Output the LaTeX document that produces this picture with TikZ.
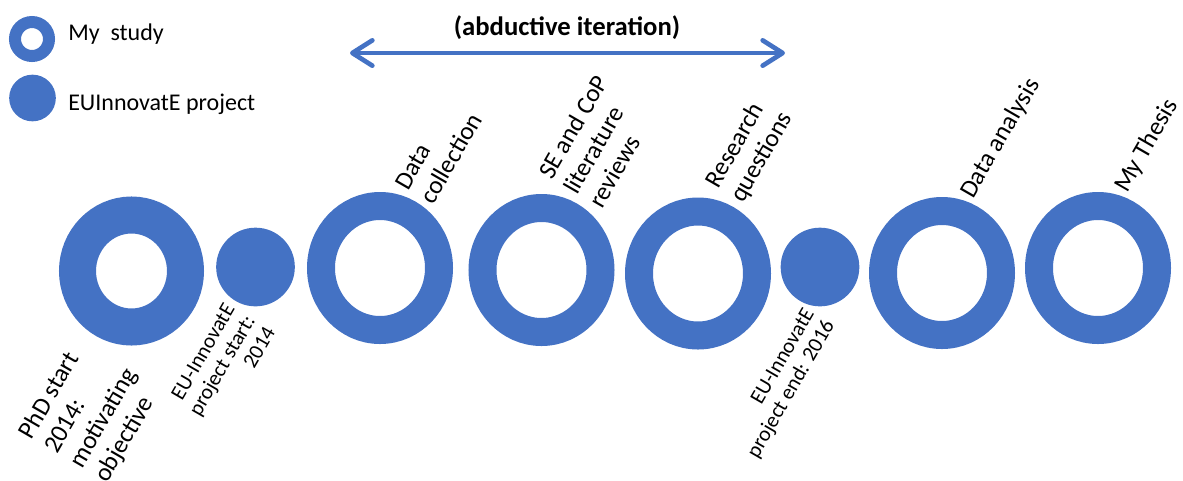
\documentclass[tikz,border=0pt]{standalone}
\usepackage{fontspec}
\setmainfont{Carlito}
\usetikzlibrary{shapes.geometric,arrows.meta}
\definecolor{ublue}{HTML}{4472C4}
\begin{document}
\begin{tikzpicture}[x=0.75pt,y=-0.75pt,
  ring/.style={ellipse, draw=ublue, inner sep=0pt, outer sep=0pt, line width=21pt, minimum width=88.5pt, minimum height=93pt},
  bigring/.style={ellipse, draw=ublue, inner sep=0pt, outer sep=0pt, line width=27.75pt, minimum width=81pt, minimum height=84pt},
  disk/.style={circle, fill=ublue, inner sep=0pt, outer sep=0pt, minimum size=59pt},
  lring/.style={circle, draw=ublue, inner sep=0pt, outer sep=0pt, line width=9pt, minimum size=25.5pt},
  ldisk/.style={circle, fill=ublue, inner sep=0pt, outer sep=0pt, minimum size=35pt},
  lab/.style={rotate=60, inner sep=0pt, font=\fontsize{19}{21.7}\selectfont},
  slab/.style={rotate=60, inner sep=0pt, font=\fontsize{16}{17.5}\selectfont},
  legtext/.style={anchor=base west, inner sep=0pt, font=\fontsize{18}{21}\selectfont},
  iter/.style={draw=ublue, line width=3.5pt, arrows={Straight Barb[length=15pt,width=19pt,round]-Straight Barb[length=15pt,width=19pt,round]}}
]
\useasboundingbox (0,0) rectangle (1183,480);
% legend
\node[lring] (l1) at (32,39) {};
\node[ldisk] (l2) at (32.5,98) {};
\node[legtext] (l1t) at (68,40) {My\ \ study};
\node[legtext] (l2t) at (68,110) {EUInnovatE project};
% iteration arrow
\node[anchor=base, inner sep=0pt, font=\bfseries\fontsize{20}{24}\selectfont] (title) at (567,35) {(abductive iteration)};
\coordinate (al) at (350,53);
\coordinate (ar) at (785,53);
\draw[iter] (al) -- (ar);
% timeline
\node[bigring] (phd) at (131.5,271) {};
\node[disk] (eus) at (255.5,267) {};
\node[ring] (dc) at (380,268) {};
\node[ring] (se) at (541.5,270) {};
\node[ring] (rq) at (698,273.5) {};
\node[disk] (eue) at (820,267) {};
\node[ring] (da) at (942,273) {};
\node[ring] (th) at (1098,268) {};
% labels above (anchor = baseline start of last line)
\node[lab, anchor=base west, align=left] (tdc) at (433,206) {Data\\collection};
\node[lab, anchor=base west, align=left] (tse) at (602,210) {SE and CoP\\literature\\reviews};
\node[lab, anchor=base west, align=left] (trq) at (743,204) {Research\\questions};
\node[lab, anchor=base west, align=left] (tda) at (973,200) {Data analysis};
\node[lab, anchor=base west, align=left] (tth) at (1127,194) {My Thesis};
% labels below (anchor = baseline of last line)
\node[lab, anchor=base west, align=left] (bphd) at (107,484) {PhD start\\2014:\\motivating\\objective};
\node[slab, anchor=base east, align=right] (beus) at (276,332) {EU-InnovatE\\project start:\\2014};
\node[slab, anchor=base east, align=right] (beue) at (835,325) {EU-InnovatE\\project end: 2016};
\end{tikzpicture}
\end{document}
